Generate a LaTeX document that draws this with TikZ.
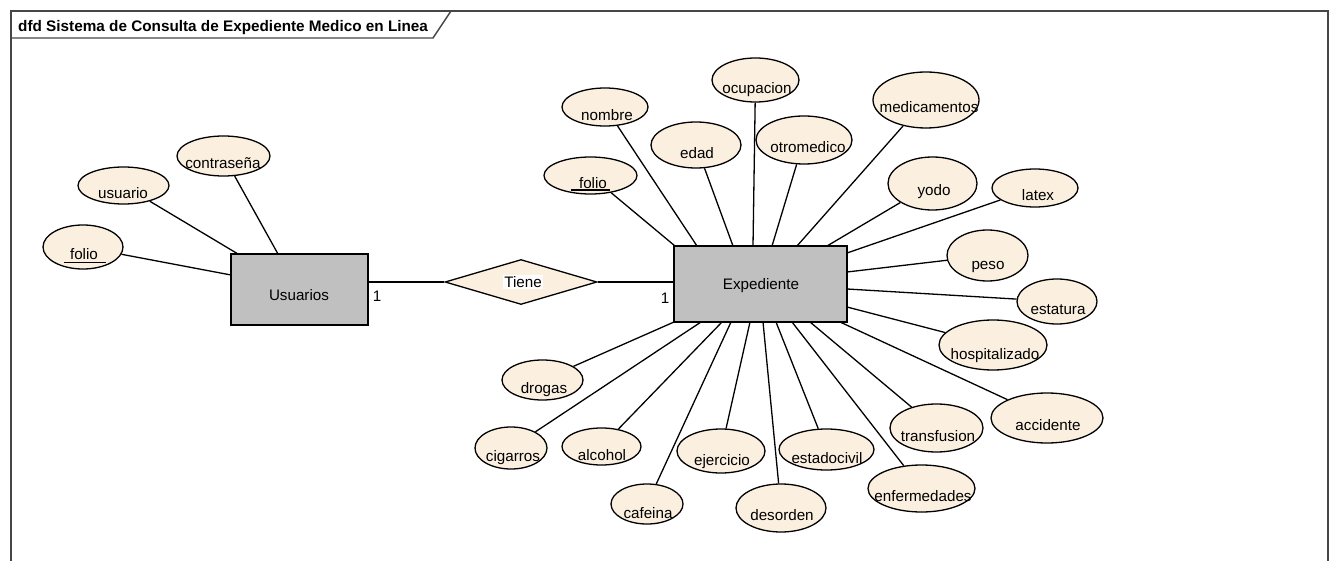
\documentclass[tikz,border=0pt]{standalone}
\usepackage{fontspec}
\setmainfont{Liberation Sans}
\usetikzlibrary{shapes.geometric}

\definecolor{attrfill}{RGB}{251,240,224}
\definecolor{entfill}{RGB}{192,192,192}
\definecolor{framecol}{RGB}{70,70,70}

\tikzset{
  attr/.style={ellipse, draw=black, fill=attrfill, line width=1.3pt, inner sep=0pt},
  lbl/.style={inner sep=0pt, anchor=mid, font=\fontsize{15.2}{18}\selectfont},
  entity/.style={rectangle, draw=black, fill=entfill, line width=1.3pt, inner sep=0pt},
  rel/.style={diamond, draw=black, fill=attrfill, line width=1.3pt, inner sep=0pt},
  link/.style={line width=1.3pt},
  keyline/.style={line width=1.3pt},
  framebox/.style={draw=framecol, line width=1.4pt},
}

% attribute: name, cx, cy, width, height, text x, text y, text
\newcommand\attrnode[8]{%
  \node[attr, minimum width=#4pt, minimum height=#5pt] (#1) at (#2,#3) {};
  \node[lbl] (#1-t) at (#6,#7) {#8};}

\begin{document}
\begin{tikzpicture}[x=1pt, y=-1pt]
\useasboundingbox (0,0) rectangle (1330,561);

% diagram frame and title tab
\draw[framebox] (11,561) -- (11,11) -- (1328,11) -- (1328,561);
\draw[framebox] (11,38) -- (433,38) -- (451,11);
\node[anchor=base west, inner sep=0pt, font=\fontsize{15.3}{18}\selectfont\bfseries] (title) at (18,31.5)
  {dfd Sistema de Consulta de Expediente Medico en Linea};

% entities and relationship
\node[entity, minimum width=137pt, minimum height=71pt] (usr) at (299.5,289.5) {};
\node[lbl] (usr-t) at (299,298) {Usuarios};
\node[entity, minimum width=173pt, minimum height=76pt] (exp) at (760.5,284) {};
\node[lbl] (exp-t) at (761,287) {Expediente};
\node[rel, minimum width=152pt, minimum height=45pt] (tiene) at (521,282) {};
\node[lbl, fill=white, inner sep=1.5pt] (tiene-t) at (523,285) {Tiene};
\node[lbl] (card1) at (377,299) {1};
\node[lbl] (card2) at (665,301) {1};

\draw[link] (usr.east |- tiene.west) -- (tiene.west);
\draw[link] (tiene.east) -- (exp.west |- tiene.east);

% attributes of Usuarios
\attrnode{ufolio}{83}{247}{80}{44}{84}{257}{folio}
\attrnode{uusuario}{123.5}{185.5}{91}{37}{123}{196}{usuario}
\attrnode{ucontra}{223.5}{156}{93}{40}{223}{166}{contraseña}
\draw[keyline] ([xshift=-6pt,yshift=-3pt]ufolio-t.base west) -- ([xshift=8pt,yshift=-3pt]ufolio-t.base east);

% attributes of Expediente
\attrnode{efolio}{590.5}{175.5}{93}{37}{593}{186}{folio}
\attrnode{nombre}{605}{107}{86}{38}{607}{118}{nombre}
\attrnode{edad}{696}{145}{90}{46}{697}{156}{edad}
\attrnode{ocupacion}{755.5}{80}{87}{44}{757}{91}{ocupacion}
\attrnode{otromedico}{804}{140}{96}{48}{808}{150}{otromedico}
\attrnode{medicamentos}{926}{100}{106}{56}{929}{110}{medicamentos}
\attrnode{yodo}{932.5}{183.5}{89}{53}{934}{193}{yodo}
\attrnode{latex}{1035}{188}{86}{38}{1038}{198}{latex}
\attrnode{peso}{987.5}{255.5}{81}{51}{988}{267}{peso}
\attrnode{estatura}{1057}{301.5}{80}{45}{1058}{312}{estatura}
\attrnode{hospitalizado}{993}{345}{108}{50}{995}{357}{hospitalizado}
\attrnode{accidente}{1047}{418}{112}{50}{1048}{428}{accidente}
\attrnode{transfusion}{936.5}{428}{93}{48}{938}{439}{transfusion}
\attrnode{enfermedades}{921.5}{488.5}{107}{47}{923}{499}{enfermedades}
\attrnode{estadocivil}{826.5}{449.5}{95}{41}{827}{461}{estadocivil}
\attrnode{desorden}{781}{508}{90}{48}{782}{518}{desorden}
\attrnode{ejercicio}{721}{451}{88}{44}{722}{463}{ejercicio}
\attrnode{cafeina}{647}{504}{72}{40}{648}{516}{cafeina}
\attrnode{alcohol}{601.5}{446.5}{79}{37}{602}{458}{alcohol}
\attrnode{cigarros}{511}{448}{72}{42}{513}{459}{cigarros}
\attrnode{drogas}{542.5}{380}{81}{40}{544}{391}{drogas}
\draw[keyline] ([xshift=-8pt,yshift=-1.5pt]efolio-t.base west) -- ([xshift=3pt,yshift=-1.5pt]efolio-t.base east);

% attachment points on the entity borders
\coordinate (u1) at (231,275);
\coordinate (u2) at (238,254);
\coordinate (u3) at (278,254);
\coordinate (x1) at (675,246);
\coordinate (x2) at (697,246);
\coordinate (x3) at (733,246);
\coordinate (x4) at (753,246);
\coordinate (x5) at (772,246);
\coordinate (x6) at (797,246);
\coordinate (x7) at (827,246);
\coordinate (x8) at (847,253);
\coordinate (x9) at (847,272);
\coordinate (x10) at (847,289);
\coordinate (x11) at (847,307);
\coordinate (x12) at (840,322);
\coordinate (x13) at (810,322);
\coordinate (x14) at (792,322);
\coordinate (x15) at (776,322);
\coordinate (x16) at (763,322);
\coordinate (x17) at (750,322);
\coordinate (x18) at (731,322);
\coordinate (x19) at (722,322);
\coordinate (x20) at (701,322);
\coordinate (x21) at (674,322);

% connectors
\draw[link] (ufolio) -- (u1);
\draw[link] (uusuario) -- (u2);
\draw[link] (ucontra) -- (u3);
\draw[link] (efolio) -- (x1);
\draw[link] (nombre) -- (x2);
\draw[link] (edad) -- (x3);
\draw[link] (ocupacion) -- (x4);
\draw[link] (otromedico) -- (x5);
\draw[link] (medicamentos) -- (x6);
\draw[link] (yodo) -- (x7);
\draw[link] (latex) -- (x8);
\draw[link] (peso) -- (x9);
\draw[link] (estatura) -- (x10);
\draw[link] (hospitalizado) -- (x11);
\draw[link] (accidente) -- (x12);
\draw[link] (transfusion) -- (x13);
\draw[link] (enfermedades) -- (x14);
\draw[link] (estadocivil) -- (x15);
\draw[link] (desorden) -- (x16);
\draw[link] (ejercicio) -- (x17);
\draw[link] (cafeina) -- (x18);
\draw[link] (alcohol) -- (x19);
\draw[link] (cigarros) -- (x20);
\draw[link] (drogas) -- (x21);
\end{tikzpicture}
\end{document}
